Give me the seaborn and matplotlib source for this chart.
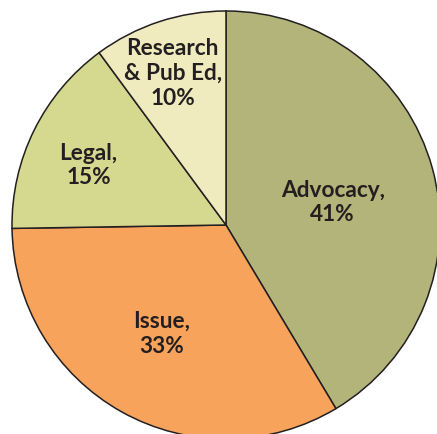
import numpy as np
import matplotlib
matplotlib.use("Agg")
import matplotlib.pyplot as plt
import seaborn as sns

categories = ["Advocacy", "Issue", "Legal", "Research\n& Pub Ed"]
values = [41, 33, 15, 10]
colors = ["#B2B47A", "#F7A35C", "#D5D98F", "#F0EABF"]
label_radius = [0.51, 0.59, 0.70, 0.75]
label_angle_shift = [-3.5, -1.5, 3.0, 1.2]

sns.set_theme(style="white")
plt.rcParams["font.family"] = ["Lato", "DejaVu Sans"]

fig = plt.figure(figsize=(4.37, 4.34), dpi=100)
ax = fig.add_axes([12 / 437, -5 / 434, 428 / 437, 428 / 434])
wedges, _ = ax.pie(values, colors=colors, startangle=90, counterclock=False,
                   radius=1.0,
                   wedgeprops=dict(edgecolor="#231F20", linewidth=1.1))
for w, cat, v, r, da in zip(wedges, categories, values, label_radius, label_angle_shift):
    mid = np.deg2rad((w.theta1 + w.theta2) / 2 + da)
    ax.text(r * np.cos(mid), r * np.sin(mid), f"{cat},\n{v}%",
            ha="center", va="center", fontsize=16.3, fontweight="bold",
            color="#231F20", linespacing=1.22)
ax.set_xlim(-1, 1)
ax.set_ylim(-1, 1)
ax.set_aspect("equal")
ax.axis("off")
fig.savefig("out.png", dpi=100)
